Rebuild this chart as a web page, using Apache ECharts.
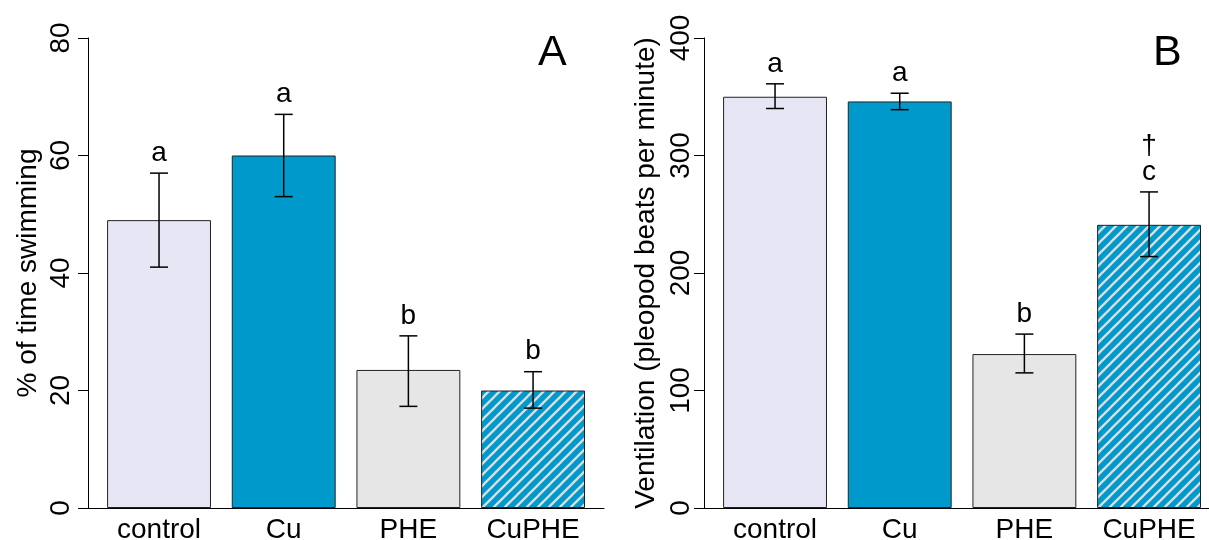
<!DOCTYPE html>
<html>
<head>
    <meta charset="utf-8">
    <style>
        html, body { margin: 0; padding: 0; background: #fff; }
        #chart { width: 1209px; height: 540px; }
    </style>
    <script src="https://cdn.jsdelivr.net/npm/echarts@6/dist/echarts.min.js"></script>
</head>
<body>
    <div id="chart"></div>
    <script type="text/javascript">
        // data
        var categories = ['control', 'Cu', 'PHE', 'CuPHE'];

        var swimMean = [49, 60, 23.5, 20];
        var swimLow = [41, 53, 17.3, 17];
        var swimHigh = [57, 67, 29.3, 23.2];
        var swimLetters = ['a', 'a', 'b', 'b'];
        var swimTicks = [0, 80, 20];   // min, max, step

        var ventMean = [350, 346, 131, 241];
        var ventLow = [340, 339, 115, 214];
        var ventHigh = [361, 353, 148, 269];
        var ventLetters = ['a', 'a', 'b', '†\nc'];
        var ventTicks = [0, 400, 100];

        var FONT = 'Liberation Sans, Arial, sans-serif';
        var FS = 28;

        // diagonal hatch for CuPHE
        var pc = document.createElement('canvas');
        pc.width = 11; pc.height = 11;
        var ctx = pc.getContext('2d');
        ctx.fillStyle = '#0099CC';
        ctx.fillRect(0, 0, 11, 11);
        ctx.strokeStyle = '#DEDEDE';
        ctx.lineWidth = 2.3;
        [0, 11, 22].forEach(function (c) {
            ctx.beginPath();
            ctx.moveTo(-2, c + 2);
            ctx.lineTo(c + 2, -2);
            ctx.stroke();
        });
        var hatch = { image: pc, repeat: 'repeat' };
        var fills = ['#E6E6F5', '#0099CC', '#E6E6E6', hatch];

        function barData(vals) {
            return vals.map(function (v, i) {
                return { value: v, itemStyle: { color: fills[i] } };
            });
        }

        function errData(low, high) {
            return low.map(function (l, i) { return [i, l, high[i]]; });
        }

        var errLetters = {};
        function renderErr(params, api) {
            var lo = api.coord([api.value(0), api.value(1)]);
            var hi = api.coord([api.value(0), api.value(2)]);
            var x = lo[0], w = 9;
            var st = { stroke: '#000', lineWidth: 1.5 };
            var letter = errLetters[params.seriesIndex][params.dataIndex];
            return {
                type: 'group',
                children: [
                    { type: 'line', shape: { x1: x, y1: lo[1], x2: x, y2: hi[1] }, style: st },
                    { type: 'line', shape: { x1: x - w, y1: lo[1], x2: x + w, y2: lo[1] }, style: st },
                    { type: 'line', shape: { x1: x - w, y1: hi[1], x2: x + w, y2: hi[1] }, style: st },
                    { type: 'text', style: { text: letter, x: x, y: hi[1] - 7, align: 'center',
                        verticalAlign: 'bottom', font: FS + 'px ' + FONT, lineHeight: 26, fill: '#000' } }
                ]
            };
        }

        function grid(left, width) {
            return { left: left, top: 38, width: width, height: 470, outerBoundsMode: 'none', containLabel: false };
        }

        function lineXAxis(g) {
            return {
                type: 'value', gridIndex: g, min: 0, max: 1,
                axisLine: { show: true, lineStyle: { color: '#000', width: 1 } },
                axisTick: { show: false }, axisLabel: { show: false }, splitLine: { show: false }
            };
        }
        function catXAxis(g) {
            return {
                type: 'category', gridIndex: g, data: categories,
                axisLine: { show: false }, axisTick: { show: false }, splitLine: { show: false },
                axisLabel: { color: '#000', fontSize: FS, fontFamily: FONT, margin: 8 }
            };
        }
        function shownYAxis(g, t, name, margin, gap) {
            return {
                type: 'value', gridIndex: g, min: t[0], max: t[1], interval: t[2],
                name: name, nameLocation: 'middle', nameGap: gap, nameRotate: 90,
                nameTextStyle: { color: '#000', fontSize: FS, fontFamily: FONT },
                axisLine: { show: true, lineStyle: { color: '#000', width: 1 } },
                axisTick: { show: true, length: 10, lineStyle: { color: '#000', width: 1 } },
                axisLabel: { color: '#000', fontSize: FS, fontFamily: FONT, rotate: 90, margin: margin },
                splitLine: { show: false }
            };
        }
        function hiddenYAxis(g, t) {
            return { type: 'value', gridIndex: g, min: t[0], max: t[1], show: false, splitLine: { show: false } };
        }

        var barStyle = { borderColor: '#222', borderWidth: 1 };

        var option = {
            animation: false,
            backgroundColor: '#fff',
            grid: [grid(88, 516), grid(96.7, 498.7), grid(704, 516), grid(712.7, 498.7)],
            xAxis: [lineXAxis(0), catXAxis(1), lineXAxis(2), catXAxis(3)],
            yAxis: [
                shownYAxis(0, swimTicks, '% of time swimming', 13, 46),
                hiddenYAxis(1, swimTicks),
                shownYAxis(2, ventTicks, 'Ventilation (pleopod beats per minute)', 9, 44),
                hiddenYAxis(3, ventTicks)
            ],
            graphic: [
                { type: 'text', left: 538, top: 32, style: { text: 'A', font: '43px ' + FONT, fill: '#000' } },
                { type: 'text', left: 1153, top: 32, style: { text: 'B', font: '43px ' + FONT, fill: '#000' } }
            ],
            series: [
                { type: 'bar', xAxisIndex: 1, yAxisIndex: 1, barWidth: '83.33%', data: barData(swimMean), itemStyle: barStyle },
                { type: 'custom', xAxisIndex: 1, yAxisIndex: 1, renderItem: renderErr, data: errData(swimLow, swimHigh), z: 5 },
                { type: 'bar', xAxisIndex: 3, yAxisIndex: 3, barWidth: '83.33%', data: barData(ventMean), itemStyle: barStyle },
                { type: 'custom', xAxisIndex: 3, yAxisIndex: 3, renderItem: renderErr, data: errData(ventLow, ventHigh), z: 5 }
            ]
        };
        errLetters[1] = swimLetters;
        errLetters[3] = ventLetters;

        var myChart = echarts.init(document.getElementById('chart'));
        myChart.setOption(option);
    </script>
</body>
</html>
